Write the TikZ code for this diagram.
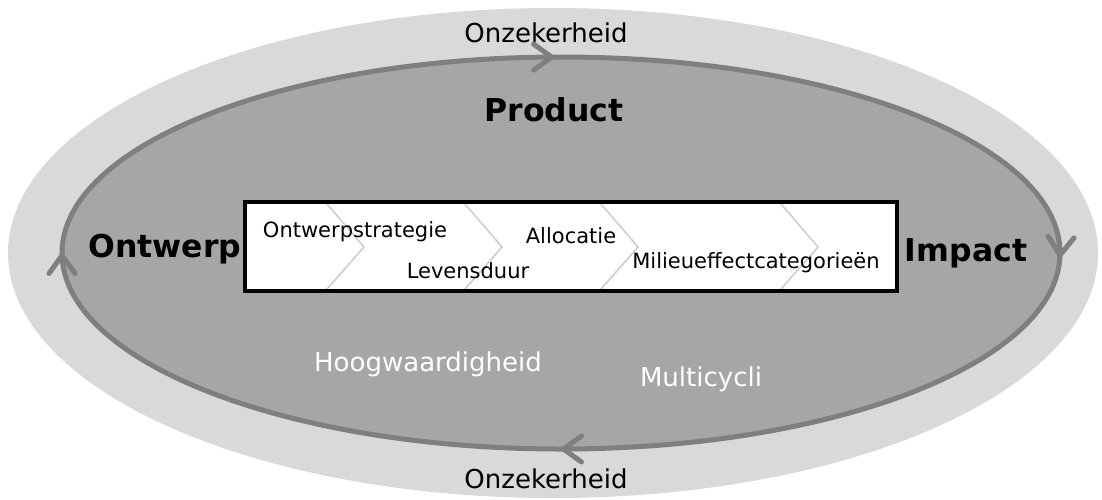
\documentclass[tikz,border=0pt]{standalone}
\usepackage{fontspec}
\setmainfont{DejaVu Sans}
\usetikzlibrary{arrows.meta,decorations.markings}
\definecolor{outergray}{HTML}{D9D9D9}
\definecolor{innergray}{HTML}{A6A6A6}
\definecolor{ringgray}{HTML}{7F7F7F}
\definecolor{chevgray}{HTML}{CCCCCC}
\tikzset{>={Straight Barb[length=18pt,width=26pt,round]}}
\begin{document}
\begin{tikzpicture}[x=1pt, y=-1pt,
	lbl/.style={font=\fontsize{26}{30}\selectfont, anchor=base, inner sep=0pt},
	head/.style={font=\bfseries\fontsize{31.5}{36}\selectfont, anchor=base, inner sep=0pt},
	stage/.style={font=\fontsize{21}{25}\selectfont, anchor=base, inner sep=0pt},
	ring/.style={draw=ringgray, line width=5pt, fill=innergray, postaction={decorate},
		decoration={markings,
			mark=at position 0.002 with {\arrow[ringgray]{>}},
			mark=at position 0.25 with {\arrow[ringgray]{>}},
			mark=at position 0.5 with {\arrow[ringgray]{>}},
			mark=at position 0.747 with {\arrow[ringgray]{>}}}},
	chev/.style={draw=chevgray, line width=1.5pt}]
	\useasboundingbox (0,0) rectangle (1102,499);
	\fill [outergray] (553,253) ellipse [x radius=545, y radius=245];
	\path [ring] (561,253) ellipse [x radius=499, y radius=196];
	% proces
	\node (proces) at (571,246.5) [fill=white, minimum width=652pt, minimum height=89pt, inner sep=0pt] {};
	\foreach \cx in {327,465,601,781}
		\draw [chev] (\cx,204) -- (\cx+37,247) -- (\cx,289);
	\draw [line width=4.5pt] (proces.north west) rectangle (proces.south east);
	\node (onzekerTop) at (546,42.5) [lbl] {Onzekerheid};
	\node (onzekerBottom) at (546,488.5) [lbl] {Onzekerheid};
	\node (product) at (554,121.5) [head] {Product};
	\node (ontwerp) at (165,257) [head] {Ontwerp};
	\node (impact) at (966,261) [head] {Impact};
	\node (strategie) at (355,237) [stage] {Ontwerpstrategie};
	\node (levensduur) at (468,278) [stage] {Levensduur};
	\node (allocatie) at (571,243) [stage] {Allocatie};
	\node (milieu) at (756,268) [stage] {Milieueffectcategorieën};
	\node (hoogwaardig) at (428,371) [stage, font=\fontsize{26}{30}\selectfont, text=white] {Hoogwaardigheid};
	\node (multicycli) at (701,386) [stage, font=\fontsize{26}{30}\selectfont, text=white] {Multicycli};
\end{tikzpicture}
\end{document}
